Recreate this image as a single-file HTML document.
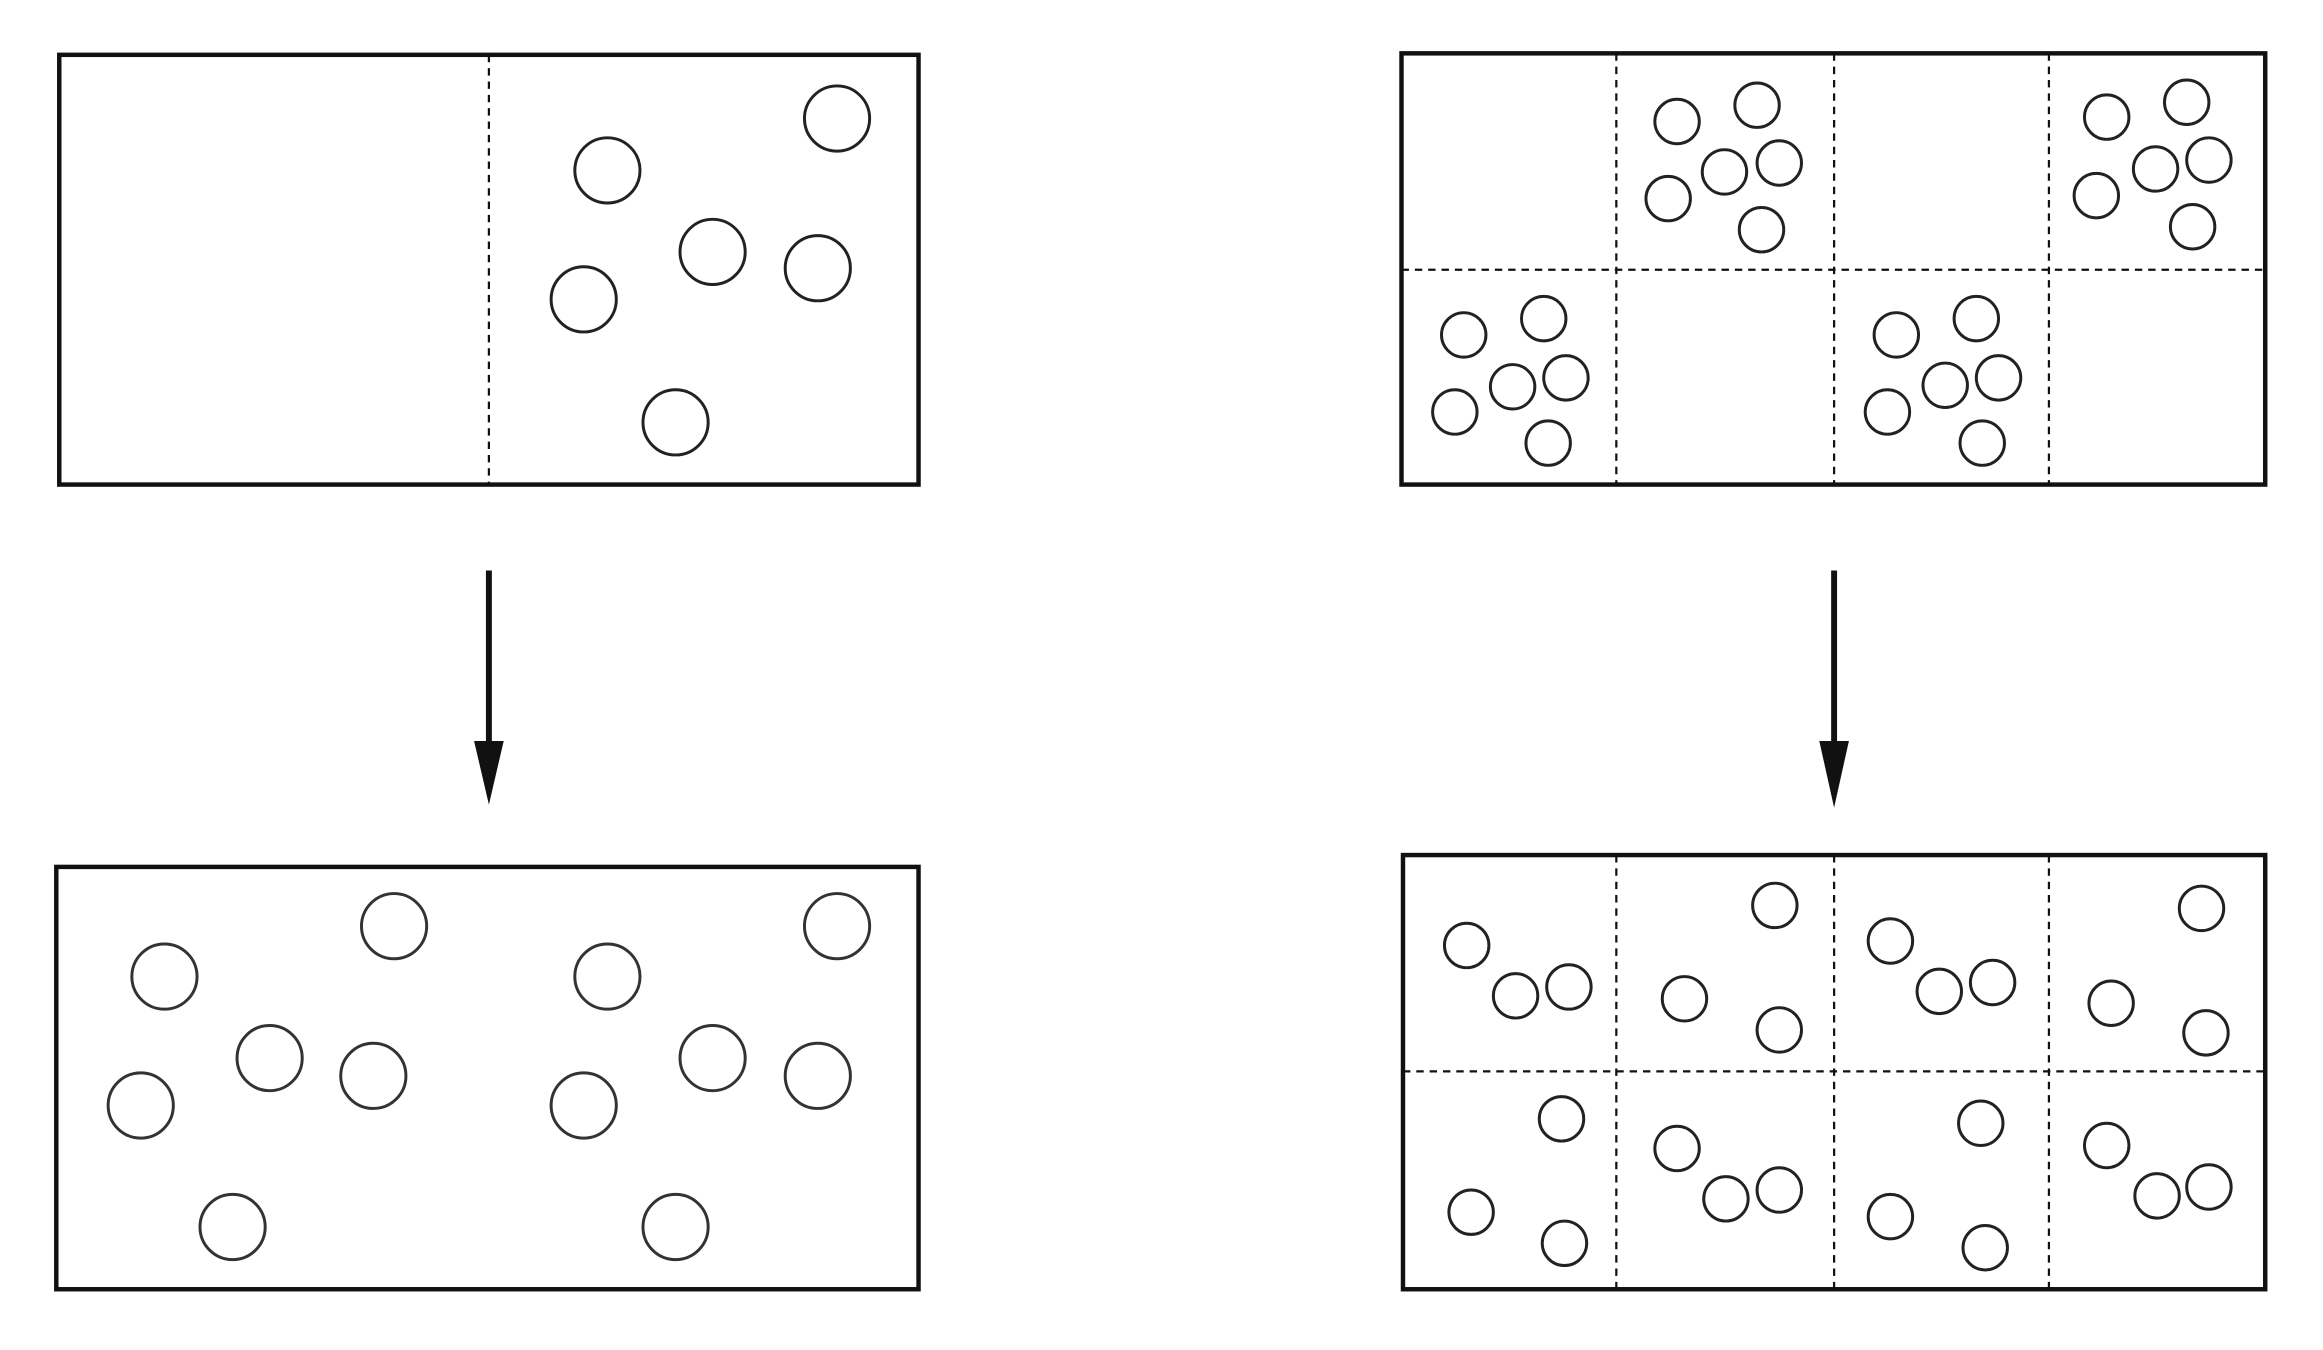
<!DOCTYPE html>
<html><head><meta charset="utf-8"><style>
html,body{margin:0;padding:0;background:#fff;}
svg{display:block;}
</style></head><body>
<svg width="2323" height="1350" viewBox="0 0 1568 911" preserveAspectRatio="none" xmlns="http://www.w3.org/2000/svg">
<g fill="none" stroke="#111">
<!-- left top -->
<rect x="40" y="37" width="580" height="290" stroke-width="3"/>
<line x1="330" y1="37" x2="330" y2="327" stroke-width="1.5" stroke-dasharray="5,4"/>
<g stroke-width="2" fill="none" stroke="#222">
<circle cx="565" cy="80" r="22"/><circle cx="410" cy="115" r="22"/><circle cx="481" cy="170" r="22"/>
<circle cx="552" cy="181" r="22"/><circle cx="394" cy="202" r="22"/><circle cx="456" cy="285" r="22"/>
</g>
<!-- left bottom -->
<rect x="38" y="585" width="582" height="285" stroke-width="3"/>
<g stroke-width="2" stroke="#333">
<circle cx="565" cy="625" r="22"/><circle cx="410" cy="659" r="22"/><circle cx="481" cy="714" r="22"/>
<circle cx="552" cy="726" r="22"/><circle cx="394" cy="746" r="22"/><circle cx="456" cy="828" r="22"/>
<circle cx="266" cy="625" r="22"/><circle cx="111" cy="659" r="22"/><circle cx="182" cy="714" r="22"/>
<circle cx="252" cy="726" r="22"/><circle cx="95" cy="746" r="22"/><circle cx="157" cy="828" r="22"/>
</g>
<!-- right top -->
<rect x="946" y="36" width="583" height="291" stroke-width="3"/>
<g stroke-width="1.5" stroke-dasharray="5,4">
<line x1="1091" y1="36" x2="1091" y2="327"/><line x1="1238" y1="36" x2="1238" y2="327"/><line x1="1383" y1="36" x2="1383" y2="327"/>
<line x1="946" y1="182" x2="1529" y2="182"/>
</g>
<g stroke-width="2" stroke="#222">
<circle cx="1132" cy="82" r="15"/><circle cx="1186" cy="71" r="15"/><circle cx="1164" cy="116" r="15"/><circle cx="1201" cy="110" r="15"/><circle cx="1126" cy="134" r="15"/><circle cx="1189" cy="155" r="15"/>
<circle cx="1422" cy="79" r="15"/><circle cx="1476" cy="69" r="15"/><circle cx="1455" cy="114" r="15"/><circle cx="1491" cy="108" r="15"/><circle cx="1415" cy="132" r="15"/><circle cx="1480" cy="153" r="15"/>
<circle cx="988" cy="226" r="15"/><circle cx="1042" cy="215" r="15"/><circle cx="1021" cy="261" r="15"/><circle cx="1057" cy="255" r="15"/><circle cx="982" cy="278" r="15"/><circle cx="1045" cy="299" r="15"/>
<circle cx="1280" cy="226" r="15"/><circle cx="1334" cy="215" r="15"/><circle cx="1313" cy="260" r="15"/><circle cx="1349" cy="255" r="15"/><circle cx="1274" cy="278" r="15"/><circle cx="1338" cy="299" r="15"/>
</g>
<!-- right bottom -->
<rect x="947" y="577" width="582" height="293" stroke-width="3"/>
<g stroke-width="1.5" stroke-dasharray="5,4">
<line x1="1091" y1="577" x2="1091" y2="870"/><line x1="1238" y1="577" x2="1238" y2="870"/><line x1="1383" y1="577" x2="1383" y2="870"/>
<line x1="947" y1="723" x2="1529" y2="723"/>
</g>
<g stroke-width="2" stroke="#222">
<circle cx="990" cy="638" r="15"/><circle cx="1023" cy="672" r="15"/><circle cx="1059" cy="666" r="15"/>
<circle cx="1198" cy="611" r="15"/><circle cx="1137" cy="674" r="15"/><circle cx="1201" cy="695" r="15"/>
<circle cx="1276" cy="635" r="15"/><circle cx="1309" cy="669" r="15"/><circle cx="1345" cy="663" r="15"/>
<circle cx="1486" cy="613" r="15"/><circle cx="1425" cy="677" r="15"/><circle cx="1489" cy="697" r="15"/>
<circle cx="1054" cy="755" r="15"/><circle cx="993" cy="818" r="15"/><circle cx="1056" cy="839" r="15"/>
<circle cx="1132" cy="775" r="15"/><circle cx="1165" cy="809" r="15"/><circle cx="1201" cy="803" r="15"/>
<circle cx="1337" cy="758" r="15"/><circle cx="1276" cy="821" r="15"/><circle cx="1340" cy="842" r="15"/>
<circle cx="1422" cy="773" r="15"/><circle cx="1456" cy="807" r="15"/><circle cx="1491" cy="801" r="15"/>
</g>
<!-- arrows -->
<line x1="330" y1="385" x2="330" y2="505" stroke-width="4"/>
<line x1="1238" y1="385" x2="1238" y2="505" stroke-width="4"/>
</g>
<polygon points="320,500 340,500 330,543" fill="#111"/>
<polygon points="1228,500 1248,500 1238,545" fill="#111"/>
</svg>
</body></html>
